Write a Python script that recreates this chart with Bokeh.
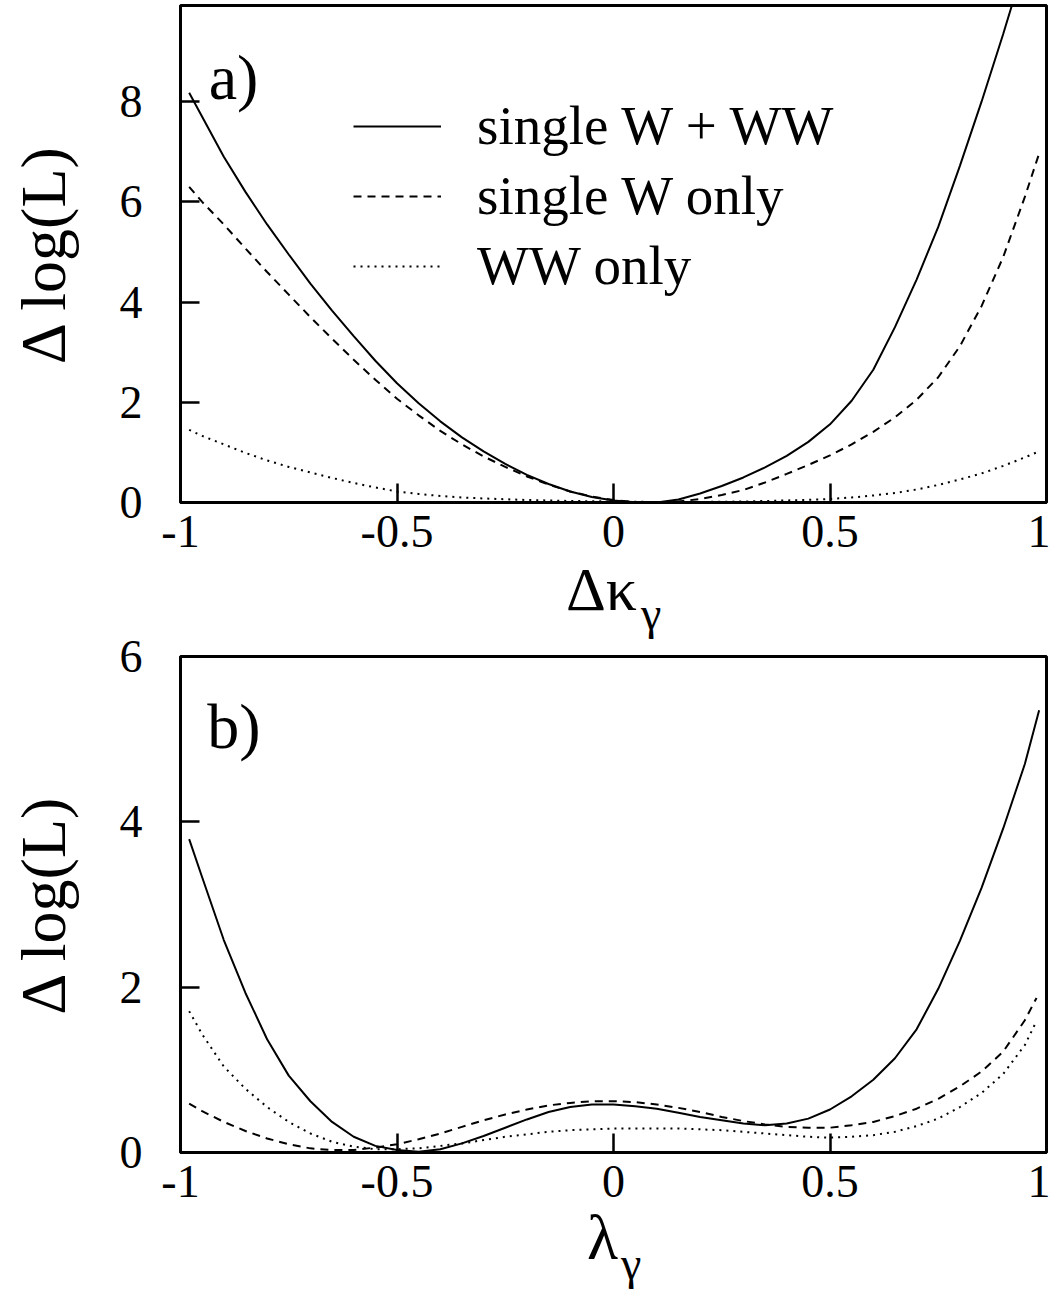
from bokeh.plotting import figure
from bokeh.models import Legend, LegendItem, FixedTicker, Range1d, Div, Label
from bokeh.layouts import column
from bokeh.embed import file_html
from bokeh.resources import INLINE

FONT = "Liberation Serif"

# ---------------- data: panel a) (Delta kappa_gamma) ----------------
a_solid_x = [-0.98, -0.95, -0.9, -0.85, -0.8, -0.75, -0.7, -0.65, -0.6, -0.55, -0.5, -0.45,
             -0.4, -0.35, -0.3, -0.25, -0.2, -0.15, -0.1, -0.05, 0.0, 0.05, 0.1, 0.15, 0.2,
             0.25, 0.3, 0.35, 0.4, 0.45, 0.5, 0.55, 0.6, 0.65, 0.7, 0.75, 0.8, 0.85, 0.9, 0.92]
a_solid_y = [8.18, 7.7, 6.9, 6.2, 5.55, 4.95, 4.37, 3.83, 3.32, 2.83, 2.38, 1.98,
             1.62, 1.3, 1.02, 0.77, 0.55, 0.37, 0.22, 0.11, 0.04, 0.005, 0.0, 0.06, 0.18,
             0.33, 0.5, 0.7, 0.93, 1.21, 1.56, 2.03, 2.65, 3.5, 4.45, 5.5, 6.72, 8.0, 9.35, 9.92]

a_dash_x = [-0.98, -0.95, -0.9, -0.85, -0.8, -0.75, -0.7, -0.65, -0.6, -0.55, -0.5, -0.45,
            -0.4, -0.35, -0.3, -0.25, -0.2, -0.15, -0.1, -0.05, 0.0, 0.05, 0.1, 0.15, 0.2,
            0.25, 0.3, 0.35, 0.4, 0.45, 0.5, 0.55, 0.6, 0.65, 0.7, 0.75, 0.8, 0.85, 0.9, 0.95, 0.982]
a_dash_y = [6.3, 6.0, 5.55, 5.07, 4.6, 4.15, 3.7, 3.27, 2.85, 2.45, 2.07, 1.74,
            1.43, 1.16, 0.92, 0.71, 0.52, 0.36, 0.22, 0.12, 0.05, 0.01, 0.0, 0.02, 0.07,
            0.15, 0.25, 0.4, 0.57, 0.75, 0.94, 1.16, 1.41, 1.7, 2.05, 2.5, 3.12, 3.92, 4.9, 6.1, 6.94]

a_dot_x = [-0.98, -0.95, -0.9, -0.85, -0.8, -0.75, -0.7, -0.65, -0.6, -0.55, -0.5, -0.45,
           -0.4, -0.35, -0.3, -0.2, -0.1, 0.0, 0.1, 0.2, 0.3, 0.4, 0.5, 0.55, 0.6, 0.65,
           0.7, 0.75, 0.8, 0.85, 0.9, 0.95, 0.98]
a_dot_y = [1.45, 1.33, 1.16, 0.99, 0.84, 0.71, 0.6, 0.49, 0.39, 0.3, 0.22, 0.17,
           0.13, 0.1, 0.08, 0.05, 0.03, 0.02, 0.01, 0.01, 0.02, 0.04, 0.07, 0.1, 0.14, 0.19,
           0.26, 0.35, 0.46, 0.58, 0.73, 0.9, 1.01]

# ---------------- data: panel b) (lambda_gamma) ----------------
b_solid_x = [-0.98, -0.95, -0.9, -0.85, -0.8, -0.75, -0.7, -0.65, -0.6, -0.55, -0.5, -0.45,
             -0.4, -0.35, -0.3, -0.25, -0.2, -0.15, -0.1, -0.05, 0.0, 0.05, 0.1, 0.15, 0.2,
             0.25, 0.3, 0.35, 0.4, 0.45, 0.5, 0.55, 0.6, 0.65, 0.7, 0.75, 0.8, 0.85, 0.9, 0.95, 0.983]
b_solid_y = [3.79, 3.33, 2.57, 1.93, 1.37, 0.93, 0.62, 0.37, 0.19, 0.08, 0.03, 0.01,
             0.04, 0.11, 0.2, 0.3, 0.4, 0.49, 0.55, 0.58, 0.58, 0.56, 0.53, 0.48, 0.43,
             0.39, 0.35, 0.33, 0.35, 0.41, 0.52, 0.68, 0.88, 1.14, 1.49, 1.98, 2.56, 3.2, 3.92, 4.7, 5.35]

b_dash_x = [-0.98, -0.95, -0.9, -0.85, -0.8, -0.75, -0.7, -0.65, -0.6, -0.55, -0.5, -0.45,
            -0.4, -0.35, -0.3, -0.25, -0.2, -0.15, -0.1, -0.05, 0.0, 0.05, 0.1, 0.15, 0.2,
            0.25, 0.3, 0.35, 0.4, 0.45, 0.5, 0.55, 0.6, 0.65, 0.7, 0.75, 0.8, 0.85, 0.9, 0.95, 0.977]
b_dash_y = [0.59, 0.5, 0.37, 0.26, 0.17, 0.1, 0.05, 0.03, 0.03, 0.06, 0.1, 0.16,
            0.23, 0.31, 0.39, 0.46, 0.52, 0.57, 0.6, 0.62, 0.62, 0.61, 0.58, 0.54, 0.49,
            0.43, 0.38, 0.34, 0.31, 0.3, 0.3, 0.33, 0.37, 0.44, 0.53, 0.65, 0.8, 0.98, 1.22, 1.6, 1.87]

b_dot_x = [-0.98, -0.95, -0.9, -0.85, -0.8, -0.75, -0.7, -0.65, -0.6, -0.55, -0.5, -0.45,
           -0.4, -0.35, -0.3, -0.25, -0.2, -0.15, -0.1, -0.05, 0.0, 0.05, 0.1, 0.15, 0.2,
           0.25, 0.3, 0.35, 0.4, 0.45, 0.5, 0.55, 0.6, 0.65, 0.7, 0.75, 0.8, 0.85, 0.9, 0.95, 0.977]
b_dot_y = [1.71, 1.43, 1.04, 0.77, 0.55, 0.37, 0.23, 0.13, 0.07, 0.04, 0.04, 0.05,
           0.08, 0.11, 0.15, 0.19, 0.22, 0.25, 0.27, 0.28, 0.29, 0.29, 0.29, 0.29, 0.28,
           0.27, 0.25, 0.23, 0.21, 0.19, 0.18, 0.19, 0.21, 0.25, 0.32, 0.41, 0.55, 0.72, 0.95, 1.3, 1.59]

series_names = ["single W + WW", "single W only", "WW only"]

x_tick_vals = [-1, -0.5, 0, 0.5, 1]
x_tick_labels = ["-1", "-0.5", "0", "0.5", "1"]
a_y_ticks = [0, 2, 4, 6, 8]
b_y_ticks = [0, 2, 4, 6]

STYLES = [dict(line_dash="solid"), dict(line_dash="8 6"), dict(line_dash="2 5")]


def make_fig(height, ymax, yticks, mbt, mbb):
    p = figure(width=1050, height=height, x_range=Range1d(-1, 1), y_range=Range1d(0, ymax),
               output_backend="svg", toolbar_location=None,
               min_border_left=180, min_border_right=4,
               min_border_top=mbt, min_border_bottom=mbb)
    p.background_fill_color = "white"
    p.border_fill_color = "white"
    p.grid.visible = False
    p.outline_line_color = "black"
    p.outline_line_width = 3
    p.outline_line_alpha = 1.0

    xa = p.xaxis[0]
    xa.ticker = FixedTicker(ticks=x_tick_vals)
    xa.major_label_overrides = {v: s for v, s in zip(x_tick_vals, x_tick_labels)}
    xa.major_label_standoff = 13

    ya = p.yaxis[0]
    ya.ticker = FixedTicker(ticks=yticks)
    ya.major_label_standoff = 38
    ya.axis_label = "Δ log(L)"
    ya.axis_label_text_font = FONT
    ya.axis_label_text_font_size = "64px"
    ya.axis_label_text_font_style = "normal"
    ya.axis_label_text_color = "black"
    ya.axis_label_standoff = 38

    for ax in (xa, ya):
        ax.axis_line_width = 3
        ax.axis_line_color = "black"
        ax.major_tick_in = 19
        ax.major_tick_out = 0
        ax.major_tick_line_width = 2.5
        ax.major_tick_line_color = "black"
        ax.minor_tick_line_color = None
        ax.major_label_text_font = FONT
        ax.major_label_text_font_size = "46px"
        ax.major_label_text_color = "black"
    return p


def add_curves(p, xs, ys):
    rs = []
    for x, y, st in zip(xs, ys, STYLES):
        rs.append(p.line(x, y, line_color="black", line_width=2, **st))
    return rs


def xlabel_div(parts, height):
    spans = "".join(
        f'<span style="position:absolute;left:{l}px;top:{t}px;font-size:{fs}px;'
        f'line-height:0;white-space:nowrap;">{txt}</span>'
        for txt, l, t, fs in parts)
    html = (f'<div style="position:relative;width:1050px;height:{height}px;overflow:visible;'
            f'font-family:\'Liberation Serif\',serif;color:black;">{spans}</div>')
    return Div(text=html, width=1050, height=height, margin=(0, 0, 0, 0),
               styles={"overflow": "visible"})


# ---------------- panel a ----------------
pa = make_fig(566, 9.92, a_y_ticks, 5, 64)
ra = add_curves(pa, [a_solid_x, a_dash_x, a_dot_x], [a_solid_y, a_dash_y, a_dot_y])

legend = Legend(items=[LegendItem(label=n, renderers=[r]) for n, r in zip(series_names, ra)],
                location=(173, 205))
legend.label_text_font = FONT
legend.label_text_font_size = "55px"
legend.label_text_color = "black"
legend.glyph_width = 88
legend.glyph_height = 62
legend.label_height = 62
legend.label_standoff = 36
legend.spacing = 7
legend.padding = 0
legend.margin = 0
legend.border_line_alpha = 0
legend.background_fill_alpha = 0
pa.add_layout(legend)

pa.add_layout(Label(x=-0.935, y=8.48, text="a)", text_font=FONT, text_font_size="64px",
                    text_color="black", text_baseline="alphabetic"))

div_a = xlabel_div([("Δκ", 566, 23, 62), ("γ", 641, 48, 46)], 64)

# ---------------- panel b ----------------
pb = make_fig(586, 6, b_y_ticks, 26, 64)
pb.border_fill_alpha = 0
add_curves(pb, [b_solid_x, b_dash_x, b_dot_x], [b_solid_y, b_dash_y, b_dot_y])
pb.add_layout(Label(x=-0.938, y=5.15, text="b)", text_font=FONT, text_font_size="64px",
                    text_color="black", text_baseline="alphabetic"))

div_b = xlabel_div([("λ", 587, 22, 64), ("γ", 621, 48, 46)], 76)

layout = column(pa, div_a, pb, div_b, spacing=0)
open("out.html", "w").write(file_html(layout, INLINE))
